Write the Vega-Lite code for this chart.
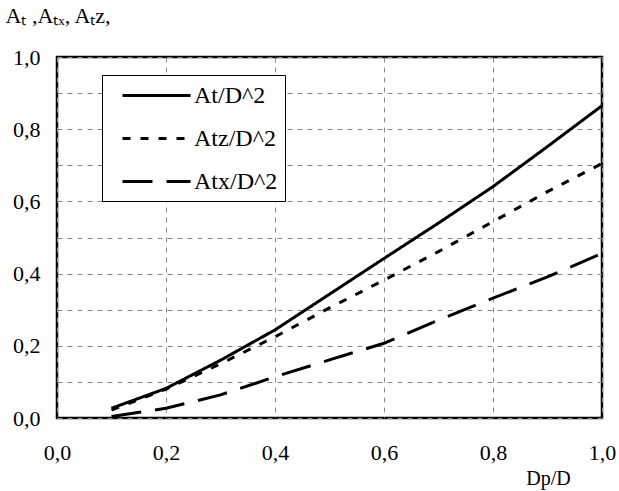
{
  "$schema": "https://vega.github.io/schema/vega-lite/v6.json",
  "autosize": "none",
  "width": 545,
  "height": 361,
  "padding": {"left": 57, "top": 57, "right": 17, "bottom": 73},
  "background": "white",
  "config": {
    "view": {"stroke": "black", "strokeWidth": 2.5},
    "font": "Liberation Serif"
  },
  "data": {
    "values": [
      {"x": 0.1, "y": 0.027, "series": "At/D^2"},
      {"x": 0.2, "y": 0.082, "series": "At/D^2"},
      {"x": 0.3, "y": 0.160, "series": "At/D^2"},
      {"x": 0.4, "y": 0.244, "series": "At/D^2"},
      {"x": 0.5, "y": 0.343, "series": "At/D^2"},
      {"x": 0.6, "y": 0.442, "series": "At/D^2"},
      {"x": 0.7, "y": 0.540, "series": "At/D^2"},
      {"x": 0.8, "y": 0.641, "series": "At/D^2"},
      {"x": 0.9, "y": 0.752, "series": "At/D^2"},
      {"x": 1.0, "y": 0.865, "series": "At/D^2"},
      {"x": 0.1, "y": 0.022, "series": "Atz/D^2"},
      {"x": 0.2, "y": 0.080, "series": "Atz/D^2"},
      {"x": 0.3, "y": 0.150, "series": "Atz/D^2"},
      {"x": 0.4, "y": 0.225, "series": "Atz/D^2"},
      {"x": 0.5, "y": 0.305, "series": "Atz/D^2"},
      {"x": 0.6, "y": 0.382, "series": "Atz/D^2"},
      {"x": 0.7, "y": 0.461, "series": "Atz/D^2"},
      {"x": 0.8, "y": 0.544, "series": "Atz/D^2"},
      {"x": 0.9, "y": 0.627, "series": "Atz/D^2"},
      {"x": 1.0, "y": 0.705, "series": "Atz/D^2"},
      {"x": 0.1, "y": 0.004, "series": "Atx/D^2"},
      {"x": 0.2, "y": 0.027, "series": "Atx/D^2"},
      {"x": 0.3, "y": 0.064, "series": "Atx/D^2"},
      {"x": 0.4, "y": 0.114, "series": "Atx/D^2"},
      {"x": 0.5, "y": 0.161, "series": "Atx/D^2"},
      {"x": 0.6, "y": 0.207, "series": "Atx/D^2"},
      {"x": 0.7, "y": 0.271, "series": "Atx/D^2"},
      {"x": 0.8, "y": 0.332, "series": "Atx/D^2"},
      {"x": 0.9, "y": 0.391, "series": "Atx/D^2"},
      {"x": 1.0, "y": 0.456, "series": "Atx/D^2"}
    ]
  },
  "mark": {"type": "line", "color": "black", "strokeWidth": 3, "clip": false},
  "encoding": {
    "x": {
      "field": "x",
      "type": "quantitative",
      "scale": {"domain": [0, 1], "nice": false, "zero": false},
      "axis": {
        "values": [0, 0.2, 0.4, 0.6, 0.8, 1.0],
        "labelExpr": "replace(format(datum.value, '.1f'), '.', ',')",
        "labelFontSize": 22,
        "labelColor": "black",
        "labelFont": "Liberation Serif",
        "labelPadding": 24,
        "labelFlush": false,
        "ticks": false,
        "domain": false,
        "grid": true,
        "gridColor": "#888888",
        "gridDash": [5, 5],
        "gridWidth": 1,
        "title": "Dp/D",
        "titleFont": "Liberation Serif",
        "titleFontSize": 20,
        "titleFontWeight": "normal",
        "titleColor": "black",
        "titleX": 491,
        "titleY": 60,
        "titleAlign": "center",
        "titleBaseline": "middle"
      }
    },
    "y": {
      "field": "y",
      "type": "quantitative",
      "scale": {"domain": [0, 1], "nice": false, "zero": true},
      "axis": {
        "values": [0, 0.1, 0.2, 0.3, 0.4, 0.5, 0.6, 0.7, 0.8, 0.9, 1.0],
        "labelExpr": "round(datum.value * 10) % 2 == 0 ? replace(format(datum.value, '.1f'), '.', ',') : ''",
        "labelFontSize": 22,
        "labelColor": "black",
        "labelFont": "Liberation Serif",
        "labelPadding": 17,
        "labelFlush": false,
        "ticks": false,
        "domain": false,
        "grid": true,
        "gridColor": "#888888",
        "gridDash": [5, 5],
        "gridWidth": 1,
        "title": "Aₜ ,Aₜₓ, Aₜz,",
        "titleFont": "Liberation Serif",
        "titleFontSize": 22,
        "titleFontWeight": "normal",
        "titleColor": "black",
        "titleAngle": 0,
        "titleAlign": "left",
        "titleBaseline": "middle",
        "titleX": -52,
        "titleY": -42
      }
    },
    "strokeDash": {
      "field": "series",
      "type": "nominal",
      "scale": {
        "domain": ["At/D^2", "Atz/D^2", "Atx/D^2"],
        "range": [[1, 0], [8, 10], [30, 14]]
      },
      "legend": {
        "title": null,
        "orient": "none",
        "legendX": 45,
        "legendY": 18,
        "direction": "vertical",
        "fillColor": "white",
        "strokeColor": "black",
        "padding": 7,
        "rowPadding": 17,
        "symbolType": "M0,0H5.67",
        "symbolSize": 576,
        "symbolStrokeWidth": 3,
        "symbolStrokeColor": "black",
        "symbolFillColor": "transparent",
        "labelFont": "Liberation Serif",
        "labelFontSize": 24,
        "labelColor": "black",
        "labelOffset": 58
      }
    }
  }
}
